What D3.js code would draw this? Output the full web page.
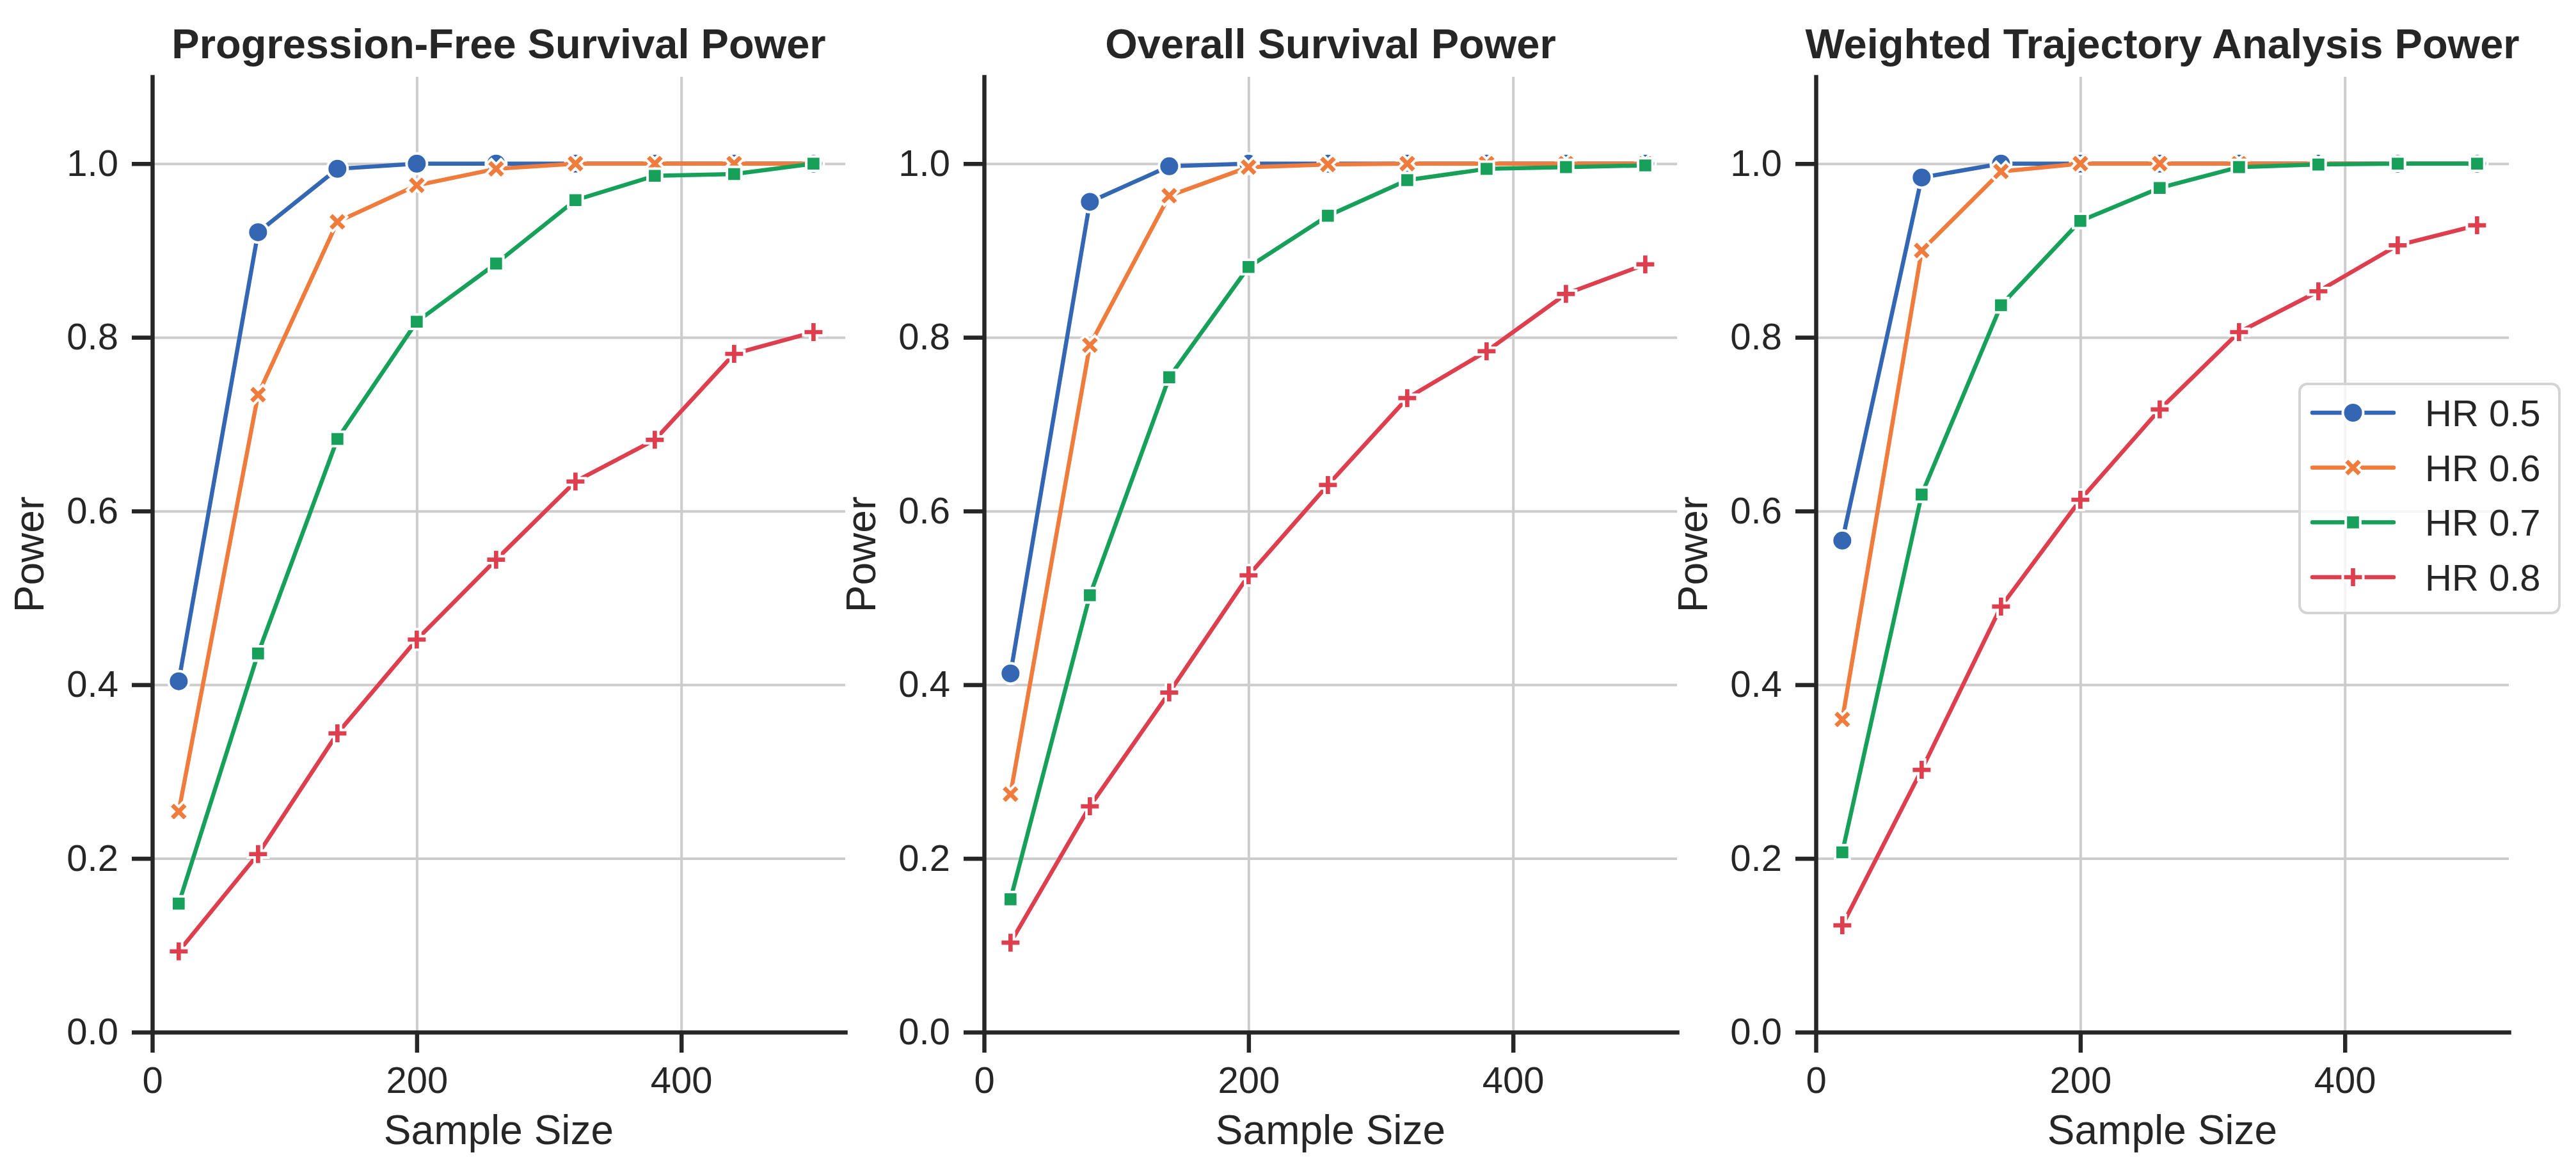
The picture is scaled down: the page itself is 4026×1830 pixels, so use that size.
<!DOCTYPE html>
<html>
<head>
<meta charset="utf-8">
<script src="https://cdn.jsdelivr.net/npm/d3@7"></script>
<style>
  html, body { margin: 0; padding: 0; background: #ffffff; }
  svg { display: block; }
  text { font-family: "Liberation Sans", Arial, Helvetica, sans-serif; fill: #262626; }
</style>
</head>
<body>
<svg id="chart" width="4026" height="1830"></svg>
<script>
// ---------------- data ----------------
const sampleSizes = [20, 80, 140, 200, 260, 320, 380, 440, 500];
const hrLabels = ["HR 0.5", "HR 0.6", "HR 0.7", "HR 0.8"];
const panelTitles = ["Progression-Free Survival Power", "Overall Survival Power", "Weighted Trajectory Analysis Power"];
const xTickValues = [0, 200, 400];
const yTickValues = [0.0, 0.2, 0.4, 0.6, 0.8, 1.0];

// Progression-free survival
const pfsHR05 = [0.404, 0.921, 0.994, 1.000, 1.000, 1.000, 1.000, 1.000, 1.000];
const pfsHR06 = [0.254, 0.734, 0.933, 0.975, 0.994, 1.000, 1.000, 1.000, 1.000];
const pfsHR07 = [0.148, 0.436, 0.683, 0.818, 0.885, 0.958, 0.986, 0.988, 1.000];
const pfsHR08 = [0.093, 0.205, 0.344, 0.452, 0.544, 0.634, 0.682, 0.781, 0.806];
// Overall survival
const osHR05 = [0.413, 0.956, 0.997, 1.000, 1.000, 1.000, 1.000, 1.000, 1.000];
const osHR06 = [0.274, 0.791, 0.963, 0.996, 0.999, 1.000, 1.000, 1.000, 1.000];
const osHR07 = [0.153, 0.503, 0.754, 0.881, 0.940, 0.981, 0.994, 0.996, 0.998];
const osHR08 = [0.103, 0.260, 0.391, 0.526, 0.630, 0.730, 0.784, 0.850, 0.884];
// Weighted trajectory analysis
const wtaHR05 = [0.566, 0.984, 1.000, 1.000, 1.000, 1.000, 1.000, 1.000, 1.000];
const wtaHR06 = [0.360, 0.900, 0.991, 1.000, 1.000, 1.000, 1.000, 1.000, 1.000];
const wtaHR07 = [0.207, 0.619, 0.837, 0.934, 0.972, 0.996, 0.999, 1.000, 1.000];
const wtaHR08 = [0.123, 0.302, 0.490, 0.613, 0.717, 0.806, 0.853, 0.906, 0.929];

const seriesColors = ["#3366b3", "#ef7b3d", "#17a05a", "#de3f4e"];

const panelSeries = [
  [pfsHR05, pfsHR06, pfsHR07, pfsHR08],
  [osHR05, osHR06, osHR07, osHR08],
  [wtaHR05, wtaHR06, wtaHR07, wtaHR08]
];

// ---------------- layout ----------------
const svg = d3.select("#chart");
const panelLefts = [238, 1538, 2838];
const plotW = 1083;
const plotTop = 120, plotBottom = 1613;
const ink = "#262626";
const tickFont = 58, labelFont = 64, titleFont = 65;
const ms = 32; // marker size in px

const x = d3.scaleLinear().domain([0, 524]);
const y = d3.scaleLinear().domain([0, 1.1]).range([plotBottom, plotTop]);

// marker generators
const symCircle = d3.symbol(d3.symbolCircle, Math.PI * (ms / 2) * (ms / 2));
const symSquare = d3.symbol(d3.symbolSquare, Math.pow(ms / Math.SQRT2, 2));
const symCross = d3.symbol(d3.symbolCross, Math.pow(ms / 3, 2) * 5);
const markerDefs = [
  { path: symCircle(), rot: 0 },
  { path: symCross(), rot: 45 },
  { path: symSquare(), rot: 0 },
  { path: symCross(), rot: 0 }
];

function drawMarker(g, cx, cy, i) {
  g.append("path")
    .attr("d", markerDefs[i].path)
    .attr("transform", `translate(${cx},${cy}) rotate(${markerDefs[i].rot})`)
    .attr("fill", seriesColors[i])
    .attr("stroke", "#ffffff")
    .attr("stroke-width", 4);
}

panelSeries.forEach((series, p) => {
  const left = panelLefts[p];
  const xs = x.copy().range([left, left + plotW]);
  const g = svg.append("g");

  // grid
  const gx = g.append("g")
    .attr("transform", `translate(0,${plotBottom})`)
    .call(d3.axisBottom(xs).tickValues(xTickValues).tickSize(-(plotBottom - plotTop)).tickFormat(""));
  const gy = g.append("g")
    .attr("transform", `translate(${left},0)`)
    .call(d3.axisLeft(y).tickValues(yTickValues).tickSize(-plotW).tickFormat(""));
  [gx, gy].forEach(a => {
    a.select(".domain").remove();
    a.selectAll(".tick line").attr("stroke", "#cccccc").attr("stroke-width", 4);
  });

  // series
  const line = d3.line().x((d, k) => xs(sampleSizes[k])).y(d => y(d));
  series.forEach((vals, i) => {
    const sg = g.append("g");
    sg.append("path")
      .attr("d", line(vals))
      .attr("fill", "none")
      .attr("stroke", seriesColors[i])
      .attr("stroke-width", 6.5)
      .attr("stroke-linejoin", "round")
      .attr("stroke-linecap", "round");
    vals.forEach((v, k) => drawMarker(sg, xs(sampleSizes[k]), y(v), i));
  });

  // axes
  const ax = g.append("g")
    .attr("transform", `translate(0,${plotBottom})`)
    .call(d3.axisBottom(xs).tickValues(xTickValues).tickSize(32).tickSizeOuter(0).tickPadding(22).tickFormat(d3.format("d")));
  const ay = g.append("g")
    .attr("transform", `translate(${left},0)`)
    .call(d3.axisLeft(y).tickValues(yTickValues).tickSize(32).tickSizeOuter(0).tickPadding(21).tickFormat(d3.format(".1f")));
  [ax, ay].forEach(a => {
    a.select(".domain").attr("stroke", ink).attr("stroke-width", 6.5).attr("stroke-linecap", "square");
    a.selectAll(".tick line").attr("stroke", ink).attr("stroke-width", 6.5);
    a.selectAll(".tick text")
      .attr("font-size", tickFont)
      .attr("font-family", '"Liberation Sans", Arial, sans-serif')
      .attr("fill", ink);
  });

  // labels
  g.append("text")
    .attr("x", left + plotW / 2)
    .attr("y", 1788)
    .attr("text-anchor", "middle")
    .attr("font-size", labelFont)
    .text("Sample Size");
  g.append("text")
    .attr("transform", `translate(${left - 170},${(plotTop + plotBottom) / 2}) rotate(-90)`)
    .attr("text-anchor", "middle")
    .attr("font-size", labelFont)
    .text("Power");
  g.append("text")
    .attr("x", left + plotW / 2)
    .attr("y", 91)
    .attr("text-anchor", "middle")
    .attr("font-size", titleFont)
    .attr("font-weight", "bold")
    .text(panelTitles[p]);
});

// ---------------- legend (third panel) ----------------
const lg = svg.append("g");
lg.append("rect")
  .attr("x", 3594).attr("y", 600)
  .attr("width", 406).attr("height", 358)
  .attr("rx", 12).attr("ry", 12)
  .attr("fill", "#ffffff").attr("fill-opacity", 0.8)
  .attr("stroke", "#d4d4d4").attr("stroke-width", 4);
const rowY = d3.scalePoint().domain(hrLabels).range([645, 902]);
hrLabels.forEach((lab, i) => {
  const ry = rowY(lab);
  lg.append("line")
    .attr("x1", 3614).attr("x2", 3741)
    .attr("y1", ry).attr("y2", ry)
    .attr("stroke", seriesColors[i]).attr("stroke-width", 6.5)
    .attr("stroke-linecap", "round");
  drawMarker(lg, 3677.5, ry, i);
  lg.append("text")
    .attr("x", 3790).attr("y", ry)
    .attr("dy", "0.36em")
    .attr("font-size", tickFont)
    .text(lab);
});
</script>
</body>
</html>
